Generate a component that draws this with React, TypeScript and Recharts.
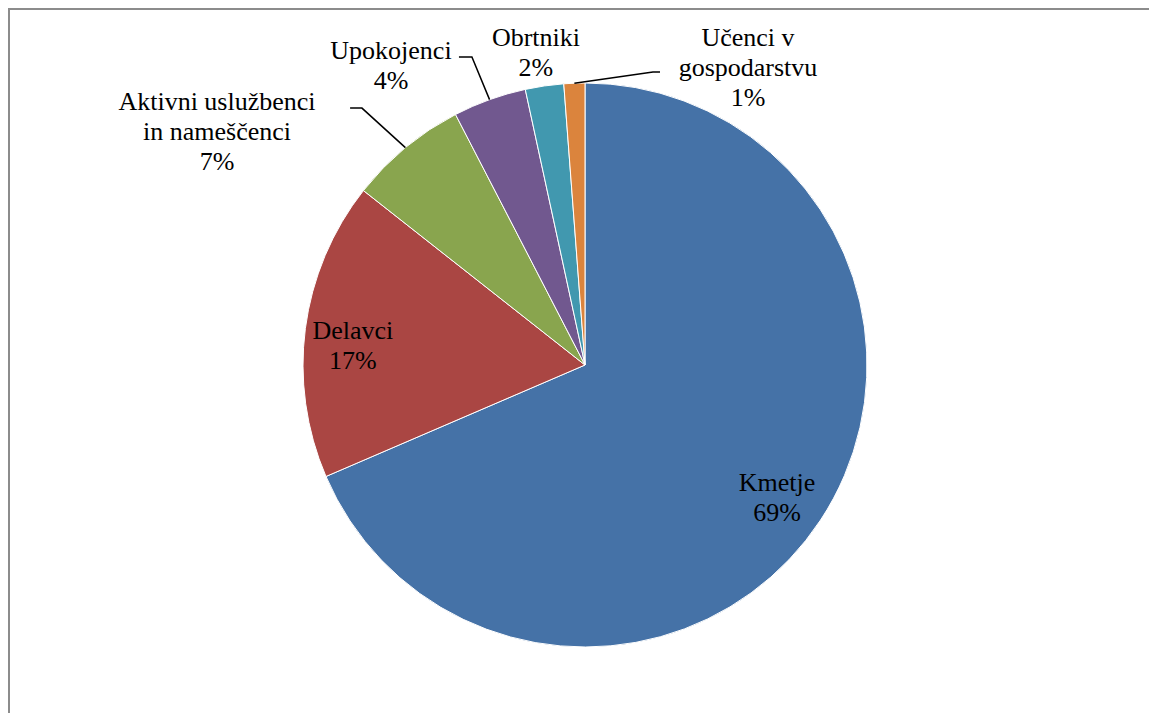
import { PieChart, Pie, Cell } from "recharts";

// deleži poklicnih skupin (v %)
const categoryLines: string[][] = [
  ["Kmetje"],
  ["Delavci"],
  ["Aktivni uslužbenci", "in nameščenci"],
  ["Upokojenci"],
  ["Obrtniki"],
  ["Učenci v", "gospodarstvu"],
];
const categories = categoryLines.map((l) => l.join(" "));
const shares = [68.6, 17.1, 6.8, 4.2, 2.2, 1.2];
const colors = ["#4572A7", "#AA4643", "#89A54E", "#71588F", "#4198AF", "#DB843D"];

// label placement, as fractions of the pie radius from the centre
const labelPos: [number, number][] = [
  [0.681, 0.468],
  [-0.823, -0.071],
  [-1.305, -0.83],
  [-0.688, -1.064],
  [-0.174, -1.11],
  [0.578, -1.057],
];
// leader lines: elbow + end point (same units), null = no line
const leaders: ([number, number][] | null)[] = [
  null,
  null,
  [[-0.791, -0.911], [-0.833, -0.911]],
  [[-0.401, -1.092], [-0.447, -1.092]],
  null,
  [[0.241, -1.039], [0.266, -1.039]],
];

const LINE = 30;
const RAD = Math.PI / 180;
const FONT = '"Liberation Serif", "Times New Roman", "DejaVu Serif", serif';

const data = categories.map((name, i) => ({ name, value: shares[i] }));

function renderLabel(props: any) {
  const { cx, cy, midAngle, outerRadius, percent, index } = props;
  const [lx, ly] = labelPos[index];
  const x = cx + lx * outerRadius;
  const y = cy + ly * outerRadius;
  const lines = [...categoryLines[index], `${Math.round(percent * 100)}%`];
  const top = y - ((lines.length - 1) * LINE) / 2;
  const ld = leaders[index];
  let leader = null;
  if (ld) {
    const ex = cx + outerRadius * Math.cos(-midAngle * RAD);
    const ey = cy + outerRadius * Math.sin(-midAngle * RAD);
    const pts = [[ex, ey], ...ld.map(([a, b]) => [cx + a * outerRadius, cy + b * outerRadius])];
    leader = (
      <polyline
        points={pts.map((p) => p.join(",")).join(" ")}
        fill="none"
        stroke="#000"
        strokeWidth={1.5}
      />
    );
  }
  return (
    <g>
      {leader}
      <text
        textAnchor="middle"
        dominantBaseline="central"
        fill="#000"
        style={{ fontFamily: FONT, fontSize: 26 }}
      >
        {lines.map((l, i) => (
          <tspan key={i} x={x} y={top + i * LINE}>
            {l}
          </tspan>
        ))}
      </text>
    </g>
  );
}

export default function App() {
  return (
    <div
      style={{
        position: "fixed",
        left: 8,
        top: 8,
        width: 1141,
        height: 705,
        boxSizing: "border-box",
        borderTop: "2px solid #8c8c8c",
        borderLeft: "2px solid #8c8c8c",
        background: "#fff",
        fontFamily: FONT,
      }}
    >
      <PieChart width={1139} height={703} margin={{ top: 0, right: 0, bottom: 0, left: 0 }}>
        <Pie
          data={data}
          dataKey="value"
          nameKey="name"
          cx={575}
          cy={355}
          outerRadius={282}
          startAngle={90}
          endAngle={-270}
          stroke="#fff"
          strokeWidth={1}
          label={renderLabel}
          labelLine={false}
          isAnimationActive={false}
        >
          {data.map((d, i) => (
            <Cell key={d.name} fill={colors[i]} />
          ))}
        </Pie>
      </PieChart>
    </div>
  );
}
